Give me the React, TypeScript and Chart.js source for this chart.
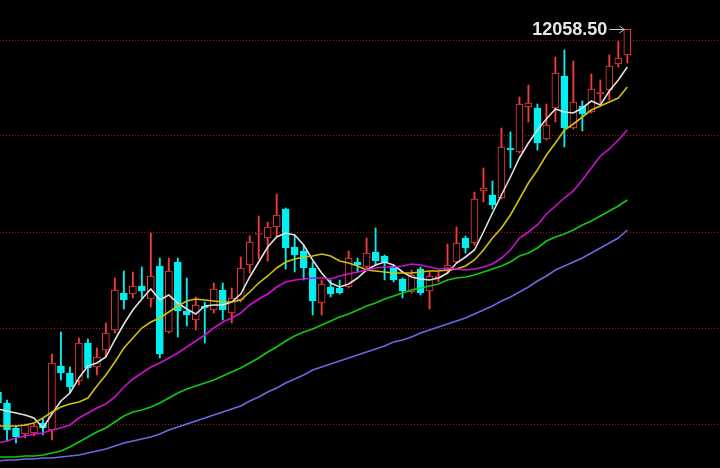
import { useEffect, useRef } from 'react';
import { Chart, registerables } from 'chart.js';

Chart.register(...registerables);

// Candle data (index 0 is only partly visible at the left edge)
const opens = [10245, 10190, 10065, 10035, 10040, 10090, 10055, 10375, 10340, 10300, 10490, 10370, 10455, 10555, 10740, 10735, 10775, 10710, 10875, 10545, 10895, 10650, 10605, 10675, 10655, 10755, 10640, 10705, 10880, 11032.5, 11015, 11070, 11160, 10970, 10950, 10865, 10690, 10770, 10765, 10770, 10895, 10870, 10945, 10925, 10875, 10810, 10745, 10860, 10750, 10815, 10850, 10895, 11015, 10990, 11250, 11230, 11215, 11465, 11445, 11670, 11665, 11510, 11665, 11825, 11565, 11675, 11645, 11735, 11755, 11885, 11930];
const highs = [10255, 10205, 10075, 10085, 10085, 10115, 10435, 10545, 10370, 10515, 10510, 10465, 10590, 10815, 10850, 10845, 10870, 11040, 10915, 10915, 10915, 10815, 10720, 10695, 10790, 10790, 10765, 10920, 11025, 11125, 11095, 11235, 11165, 11025, 10980, 10895, 10805, 10805, 10805, 10950, 10915, 11015, 11065, 10930, 10880, 10815, 10855, 10870, 10845, 10845, 10985, 11070, 11025, 11245, 11365, 11300, 11565, 11545, 11720, 11780, 11685, 11685, 11920, 11955, 11900, 11700, 11835, 11805, 11930, 12000, 12058.5];
const lows = [10175, 10000, 9990, 10015, 10025, 10030, 10005, 10305, 10240, 10280, 10315, 10330, 10420, 10540, 10660, 10715, 10715, 10670, 10415, 10540, 10520, 10575, 10555, 10490, 10640, 10605, 10590, 10695, 10840, 10910, 10900, 11020, 10860, 10845, 10805, 10630, 10630, 10720, 10735, 10765, 10845, 10860, 10880, 10805, 10795, 10715, 10740, 10730, 10660, 10795, 10840, 10890, 10940, 10980, 11195, 11160, 11210, 11365, 11440, 11595, 11455, 11505, 11595, 11470, 11560, 11550, 11640, 11690, 11705, 11870, 11890];
const closes = [10190, 10055, 10020, 10080, 10075, 10065, 10390, 10340, 10270, 10490, 10365, 10420, 10540, 10755, 10705, 10775, 10750, 10825, 10435, 10850, 10650, 10630, 10680, 10665, 10760, 10655, 10715, 10865, 10995, 11037.5, 11070, 11130, 10965, 10930, 10865, 10700, 10785, 10735, 10740, 10915, 10880, 10940, 10900, 10895, 10805, 10750, 10830, 10740, 10825, 10825, 10880, 10990, 10965, 11210, 11265, 11180, 11470, 11455, 11685, 11690, 11490, 11580, 11840, 11565, 11695, 11635, 11760, 11745, 11875, 11915, 12058.5];

// Moving averages
const ma5 = [10160, 10150, 10140, 10130, 10115, 10065, 10135, 10200, 10240, 10315, 10375, 10390, 10420, 10505, 10585, 10655, 10710, 10760, 10705, 10730, 10690, 10660, 10635, 10675, 10680, 10680, 10695, 10735, 10820, 10895, 10970, 11020, 11040, 11030, 10980, 10905, 10840, 10790, 10770, 10785, 10815, 10855, 10880, 10895, 10880, 10845, 10820, 10810, 10805, 10815, 10840, 10890, 10920, 10955, 11045, 11140, 11230, 11320, 11415, 11490, 11555, 11610, 11660, 11645, 11640, 11665, 11700, 11680, 11750, 11805, 11870];
const ma10 = [10075, 10075, 10075, 10080, 10090, 10115, 10145, 10170, 10185, 10195, 10215, 10275, 10330, 10395, 10465, 10515, 10565, 10595, 10615, 10645, 10675, 10700, 10710, 10705, 10700, 10695, 10695, 10705, 10745, 10790, 10825, 10865, 10895, 10910, 10920, 10925, 10935, 10925, 10900, 10890, 10875, 10855, 10850, 10845, 10840, 10840, 10840, 10845, 10850, 10850, 10855, 10860, 10875, 10905, 10955, 11015, 11065, 11130, 11210, 11290, 11355, 11430, 11490, 11555, 11585, 11620, 11655, 11675, 11695, 11715, 11770];
const ma20 = [9990, 10000, 10015, 10025, 10035, 10040, 10055, 10065, 10080, 10115, 10140, 10165, 10185, 10220, 10270, 10310, 10340, 10370, 10390, 10415, 10440, 10470, 10500, 10530, 10565, 10595, 10615, 10640, 10680, 10710, 10735, 10770, 10795, 10805, 10810, 10815, 10815, 10810, 10825, 10835, 10845, 10855, 10865, 10870, 10870, 10875, 10885, 10880, 10870, 10860, 10865, 10860, 10855, 10860, 10870, 10885, 10915, 10955, 11015, 11045, 11080, 11135, 11175, 11215, 11250, 11305, 11365, 11425, 11460, 11505, 11555];
const ma40 = [9920, 9920, 9920, 9925, 9925, 9930, 9940, 9950, 9970, 9995, 10020, 10045, 10065, 10095, 10125, 10145, 10155, 10170, 10190, 10215, 10240, 10260, 10275, 10290, 10305, 10325, 10345, 10365, 10390, 10415, 10445, 10470, 10500, 10525, 10545, 10560, 10580, 10600, 10620, 10635, 10655, 10675, 10690, 10710, 10725, 10740, 10755, 10765, 10775, 10785, 10805, 10815, 10820, 10830, 10845, 10860, 10875, 10895, 10925, 10940, 10965, 11000, 11020, 11035, 11055, 11080, 11100, 11125, 11150, 11175, 11205];
const ma60 = [9900, 9905, 9905, 9910, 9910, 9915, 9915, 9920, 9925, 9930, 9940, 9950, 9960, 9975, 9990, 10000, 10010, 10020, 10035, 10055, 10070, 10085, 10100, 10115, 10130, 10145, 10160, 10175, 10200, 10220, 10245, 10265, 10290, 10310, 10330, 10355, 10370, 10385, 10400, 10415, 10430, 10445, 10460, 10475, 10495, 10505, 10520, 10540, 10555, 10570, 10585, 10600, 10615, 10635, 10655, 10675, 10700, 10720, 10745, 10770, 10800, 10825, 10855, 10875, 10895, 10915, 10940, 10965, 10990, 11015, 11055];

// Horizontal dotted reference levels
const gridLevels = [10085, 10565, 11045, 11525, 12005];
const lastPriceLabel = '12058.50';

const UP = '#f23c3c';
const DOWN = '#00f0f0';

export default function App() {
  const ref = useRef<HTMLCanvasElement>(null);

  useEffect(() => {
    document.body.style.margin = '0';
    document.body.style.background = '#000';
    const idx = closes.map((_, i) => i);
    const isUp = idx.map((i) => closes[i] >= opens[i]);
    const line = (data: number[], color: string) => ({
      type: 'line' as const,
      data: data.map((v, i) => ({ x: i, y: v })),
      borderColor: color,
      borderWidth: 1.6,
      pointRadius: 0,
      tension: 0,
      order: 0,
    });

    const labelPlugin = {
      id: 'lastLabel',
      afterDatasetsDraw(chart: any) {
        const ctx = chart.ctx;
        const last = highs.length - 1;
        const x = chart.scales.x.getPixelForValue(last);
        const y = chart.scales.y.getPixelForValue(highs[last]);
        const yy = Math.round(y) + 0.5;
        ctx.save();
        ctx.strokeStyle = '#c8c8c8';
        ctx.lineWidth = 1;
        ctx.beginPath();
        ctx.moveTo(x - 18, yy);
        ctx.lineTo(x - 3, yy);
        ctx.moveTo(x - 3, yy);
        ctx.lineTo(x - 8, yy - 3.5);
        ctx.moveTo(x - 3, yy);
        ctx.lineTo(x - 8, yy + 3.5);
        ctx.stroke();
        ctx.fillStyle = '#e6e6e6';
        ctx.font = 'bold 18px "Liberation Sans", Arial, sans-serif';
        ctx.textAlign = 'right';
        ctx.textBaseline = 'alphabetic';
        ctx.fillText(lastPriceLabel, x - 20, y + 6);
        ctx.restore();
      },
    };

    const chart = new Chart(ref.current as HTMLCanvasElement, {
      type: 'bar',
      data: {
        datasets: [
          line(ma60, '#6a6ae0'),
          line(ma40, '#12c812'),
          line(ma20, '#cc10cc'),
          line(ma10, '#cfc010'),
          line(ma5, '#e0e0e0'),
          {
            type: 'bar',
            data: idx.map((i) => ({ x: i, y: [opens[i], closes[i]] })),
            backgroundColor: isUp.map((u) => (u ? '#000000' : DOWN)),
            borderColor: isUp.map((u) => (u ? UP : DOWN)),
            borderWidth: 1,
            borderSkipped: false,
            barThickness: 7,
            minBarLength: 1,
            grouped: false,
            order: 1,
          } as any,
          {
            type: 'bar',
            data: idx.map((i) => ({ x: i, y: [lows[i], highs[i]] })),
            backgroundColor: isUp.map((u) => (u ? UP : DOWN)),
            borderWidth: 0,
            barThickness: 1.2,
            grouped: false,
            order: 2,
          } as any,
        ],
      },
      options: {
        animation: false,
        responsive: false,
        maintainAspectRatio: false,
        layout: { padding: 0 },
        plugins: { legend: { display: false }, tooltip: { enabled: false } },
        scales: {
          x: {
            type: 'linear',
            min: 0.2225,
            max: 80.31,
            offset: false,
            display: false,
          },
          y: {
            min: 9865,
            max: 12205,
            ticks: { display: false },
            afterBuildTicks: (scale: any) => {
              scale.ticks = gridLevels.map((v) => ({ value: v }));
            },
            grid: { color: '#b01010', lineWidth: 1, drawTicks: false },
            border: { display: false, dash: [1, 2] },
          },
        },
      } as any,
      plugins: [labelPlugin],
    });
    return () => chart.destroy();
  }, []);

  return (
    <div style={{ position: 'fixed', left: 0, top: 0, width: 720, height: 468, background: '#000' }}>
      <canvas ref={ref} width={720} height={468} style={{ display: 'block' }} />
    </div>
  );
}
